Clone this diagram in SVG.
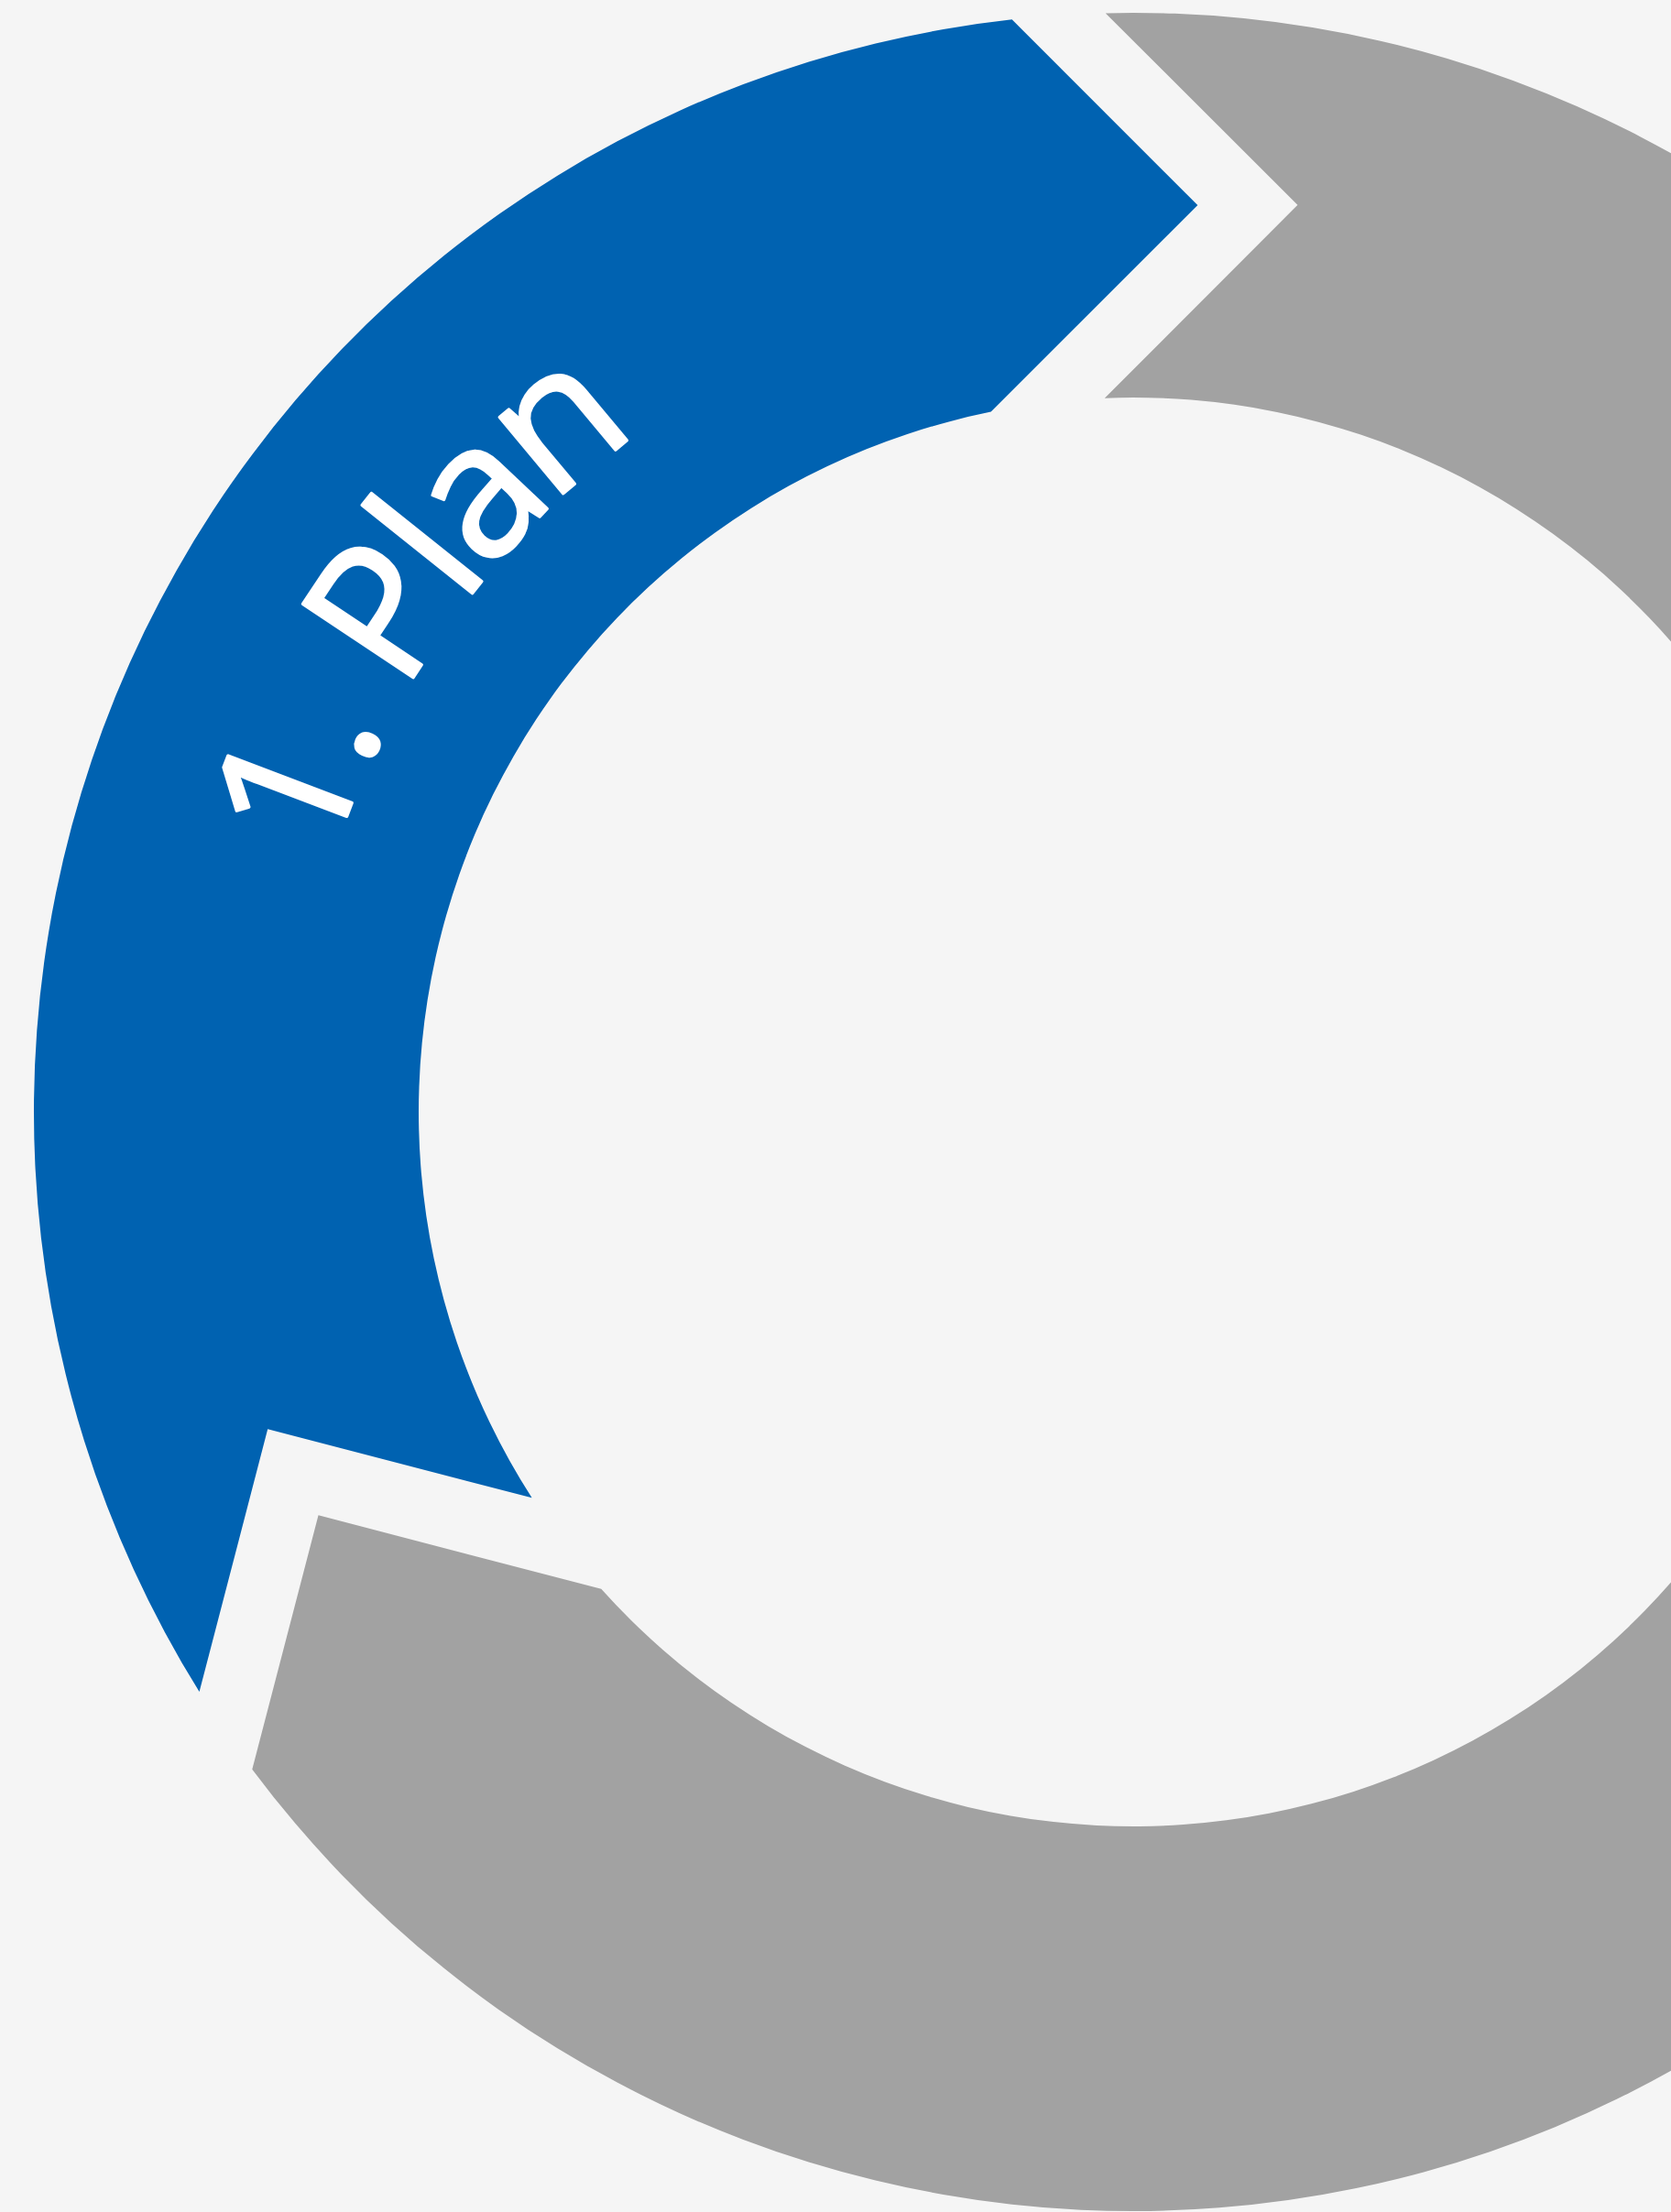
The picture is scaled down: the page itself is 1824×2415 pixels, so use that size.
<svg xmlns="http://www.w3.org/2000/svg" width="1824" height="2415" viewBox="0 0 1824 2415">
<style>
.bg{fill:#f5f5f5}
.seg-blue{fill:#0062b1}
.seg-gray{fill:#a2a2a2}
.label{fill:#ffffff;stroke:#ffffff;stroke-width:3.2px;stroke-linejoin:round;font-family:"Open Sans","Noto Sans","Liberation Sans",sans-serif;font-size:203px;font-weight:400}
</style>
<defs>
<path id="seg" d="M 217.6 1847.1 A 1200 1200 0 0 1 1104.6 21.3 L 1307.3 224 L 1081.7 449.6 A 780 780 0 0 0 580.6 1635.3 L 292.2 1560.3 Z"/>
<path id="arc1" d="M 283.0 914.1 A 1000 1000 0 0 1 1149.8 217.8" fill="none"/>
</defs>
<rect class="bg" x="0" y="0" width="1824" height="2415"/>
<g id="node-1-plan">
<use href="#seg" class="seg-blue"/>
<text class="label" dy="83"><textPath href="#arc1">1. Plan</textPath></text>
</g>
<g id="node-2">
<use href="#seg" class="seg-gray" transform="rotate(120.4 1237 1214)"/>
</g>
<g id="node-3">
<use href="#seg" class="seg-gray" transform="rotate(-120.4 1237 1214)"/>
</g>
<g id="connectors"/>
</svg>
